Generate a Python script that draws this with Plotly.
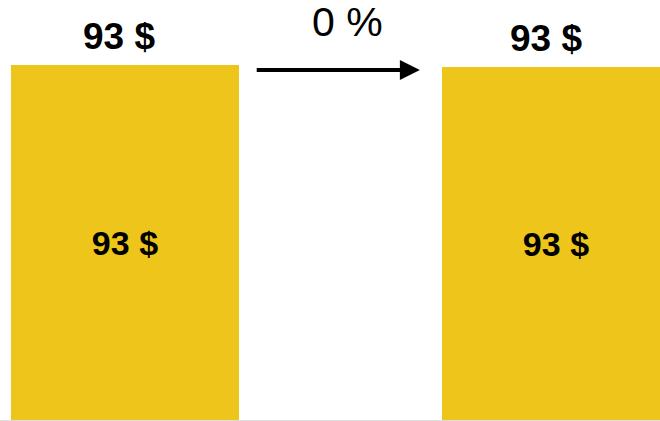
import plotly.graph_objects as go

categories = ["Before", "After"]
values = [93.3, 92.8]
labels = ["93 $", "93 $"]
change_label = "0 %"

bar_color = "#EEC51A"
font_family = "Arial, 'Liberation Sans', sans-serif"

x_pos = list(range(len(categories)))

fig = go.Figure()
fig.add_trace(go.Bar(
    x=x_pos, y=values, width=0.529,
    marker=dict(color=bar_color, line=dict(width=0)),
    text=labels, textposition="inside", insidetextanchor="middle",
    textfont=dict(family=font_family, size=34, color="black", weight="bold"),
    constraintext="none", hoverinfo="skip",
))

xshifts = [-6, -10]
for xi, v, lab, xs in zip(x_pos, values, labels, xshifts):
    fig.add_annotation(
        x=xi, y=v, text="<b>" + lab + "</b>", showarrow=False,
        yanchor="bottom", yshift=6, xshift=xs,
        font=dict(family=font_family, size=37, color="black"),
    )

# arrow between bars
ymax = 110.4
arrow_y = 92.0
fig.add_annotation(
    x=0.684, y=arrow_y, ax=0.302, ay=arrow_y,
    xref="x", yref="y", axref="x", ayref="y",
    text="", showarrow=True, arrowhead=2, arrowsize=1, arrowwidth=4,
    arrowcolor="black",
)
fig.add_annotation(
    x=0.5, y=104.6, text=change_label, showarrow=False,
    xshift=7, yanchor="middle",
    font=dict(family=font_family, size=41, color="black"),
)

fig.update_layout(
    width=660, height=421,
    margin=dict(l=0, r=0, t=0, b=1),
    plot_bgcolor="white", paper_bgcolor="white",
    showlegend=False, bargap=0,
    xaxis=dict(range=[-0.29, 1.241], showticklabels=False, showgrid=False,
               zeroline=False, showline=True, linecolor="rgba(0,0,0,0.13)",
               linewidth=1, ticks=""),
    yaxis=dict(range=[0, ymax], showticklabels=False, showgrid=False,
               zeroline=False, showline=False, ticks=""),
)

fig.write_html("out.html")
